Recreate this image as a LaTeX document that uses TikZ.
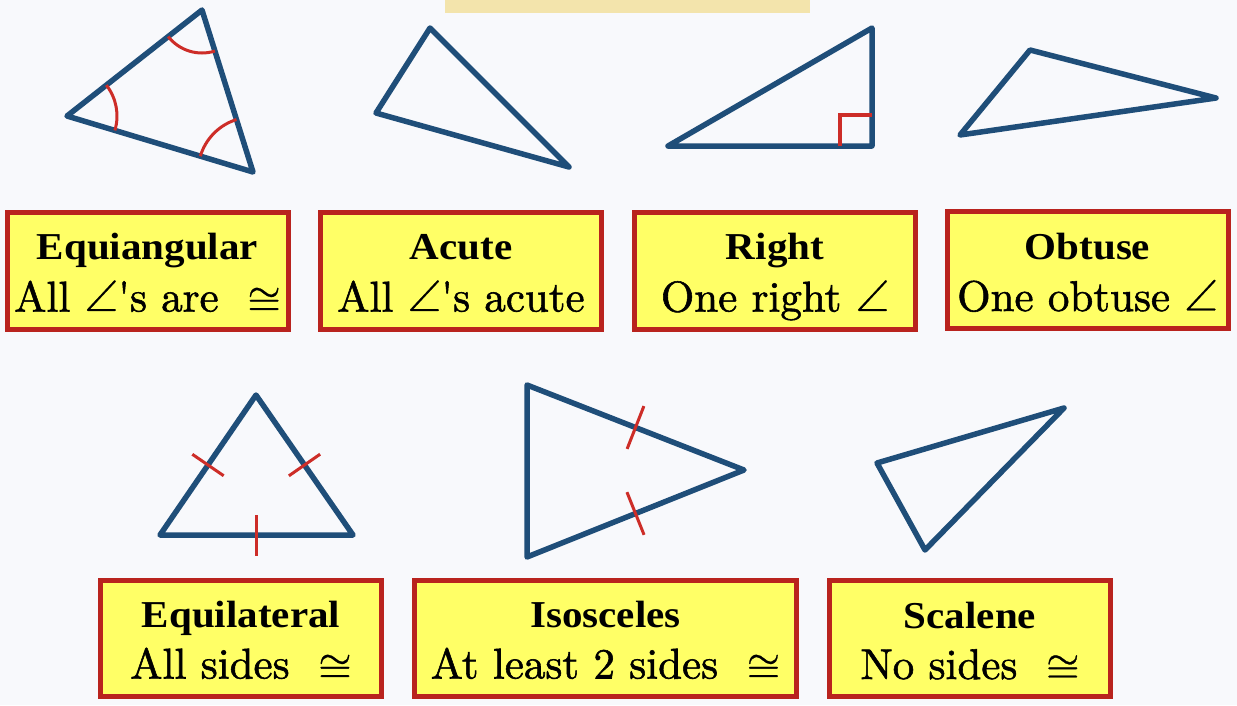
\documentclass[tikz,border=0pt]{standalone}
\usepackage{fontspec}
\newfontfamily\headf{LiberationSerif}[Extension=.ttf, UprightFont=*-Bold]
\newfontfamily\bodyf{lmroman10-regular}[Extension=.otf, FakeBold=1.3]
\newfontfamily\symf{latinmodern-math}[Extension=.otf, FakeBold=0.6]
\usetikzlibrary{calc,angles}
\definecolor{triblue}{RGB}{31,78,121}
\definecolor{markred}{RGB}{205,45,40}
\definecolor{bord}{RGB}{185,35,30}
\definecolor{boxfill}{RGB}{255,255,102}
\definecolor{bgc}{RGB}{248,249,252}
\definecolor{tanc}{RGB}{243,228,172}
\newcommand{\ang}{{\symf ∠}}
\newcommand{\cng}{{\symf ≅}}
\begin{document}
\begin{tikzpicture}[x=1pt,y=-1pt,
  triline/.style={draw=triblue, line width=5.5pt, line join=round, line cap=round},
  mk/.style={draw=markred, line width=3pt},
  arcmk/.style={draw=markred, line width=3pt, angle radius=#1},
  lbl/.style={draw=bord, fill=boxfill, line width=5pt, inner sep=0pt},
  row1/.style={lbl, minimum width=281pt, minimum height=117pt},
  row2/.style={lbl, minimum width=281pt, minimum height=116pt},
  head/.style={font=\headf\fontsize{38}{40}\selectfont, inner sep=0pt, anchor=base, xscale=1.08, transform shape},
  body/.style={font=\bodyf\fontsize{43}{46}\selectfont, inner sep=0pt, anchor=base}]
\fill[bgc] (0,0) rectangle (1237,705);
\useasboundingbox (0,0) rectangle (1237,705);

% partly visible title box
\node[fill=tanc, minimum width=365pt, minimum height=25pt, inner sep=0pt] (title) at (627.5,0) {};

% ---- triangles, top row ----
\coordinate (a1) at (202,10); \coordinate (a2) at (67,116); \coordinate (a3) at (253,172);
\draw[triline] (a1) -- (a2) -- (a3) -- cycle;
\pic[arcmk=43pt] {angle = a2--a1--a3};
\pic[arcmk=50pt] {angle = a3--a2--a1};
\pic[arcmk=55pt] {angle = a1--a3--a2};

\coordinate (c1) at (430,28); \coordinate (c2) at (376,113); \coordinate (c3) at (569,167);
\draw[triline] (c1) -- (c2) -- (c3) -- cycle;

\coordinate (r1) at (668,146); \coordinate (r2) at (872,28); \coordinate (r3) at (872,146);
\draw[triline] (r1) -- (r2) -- (r3) -- cycle;
\coordinate (rq1) at (840,146); \coordinate (rq2) at (872,115);
\draw[mk, line width=3.5pt] (rq1) |- (rq2);

\coordinate (o1) at (1030,50); \coordinate (o2) at (960,135); \coordinate (o3) at (1216,98);
\draw[triline] (o1) -- (o2) -- (o3) -- cycle;

% ---- triangles, bottom row ----
\coordinate (e1) at (256,395); \coordinate (e2) at (160,535); \coordinate (e3) at (353,535);
\draw[triline] (e1) -- (e2) -- (e3) -- cycle;
\draw[mk] ($(e1)!0.5!(e2)!19pt!90:(e2)$) -- ($(e1)!0.5!(e2)!19pt!-90:(e2)$);
\draw[mk] ($(e1)!0.5!(e3)!19pt!90:(e3)$) -- ($(e1)!0.5!(e3)!19pt!-90:(e3)$);
\draw[mk] ($(e2)!0.5!(e3)!20pt!90:(e3)$) -- ($(e2)!0.5!(e3)!21pt!-90:(e3)$);

\coordinate (i1) at (527,385); \coordinate (i2) at (527,557); \coordinate (i3) at (744,470);
\draw[triline] (i1) -- (i2) -- (i3) -- cycle;
\draw[mk] ($(i1)!0.5!(i3)!23pt!90:(i3)$) -- ($(i1)!0.5!(i3)!23pt!-90:(i3)$);
\draw[mk] ($(i2)!0.5!(i3)!23pt!90:(i3)$) -- ($(i2)!0.5!(i3)!23pt!-90:(i3)$);

\coordinate (s1) at (877,463); \coordinate (s2) at (1064,408); \coordinate (s3) at (925,550);
\draw[triline] (s1) -- (s2) -- (s3) -- cycle;

% ---- label boxes, top row ----
\node[row1] (b1) at (147.5,270.5) {};
\node[row1] (b2) at (461,270.5) {};
\node[row1] (b3) at (775,270.5) {};
\node[row1] (b4) at (1087.5,270) {};
\node[head] (h1) at ($(b1.north)+(0,50)$) {Equiangular};
\node[body] (t1) at ($(b1.north)+(0,102)$) {All \ang's are~~\cng};
\node[head] (h2) at ($(b2.north)+(0,50)$) {Acute};
\node[body] (t2) at ($(b2.north)+(0,102)$) {All \ang's acute};
\node[head] (h3) at ($(b3.north)+(0,50)$) {Right};
\node[body] (t3) at ($(b3.north)+(0,102)$) {One right \ang};
\node[head] (h4) at ($(b4.north)+(0,50)$) {Obtuse};
\node[body] (t4) at ($(b4.north)+(0,102)$) {One obtuse \ang};

% ---- label boxes, bottom row ----
\node[row2] (b5) at (241,638) {};
\node[row2, minimum width=382pt] (b6) at (605.5,638) {};
\node[row2] (b7) at (970,638.5) {};
\node[head] (h5) at ($(b5.north)+(0,50)$) {Equilateral};
\node[body] (t5) at ($(b5.north)+(0,101)$) {All sides~~\cng};
\node[head] (h6) at ($(b6.north)+(0,50)$) {Isosceles};
\node[body] (t6) at ($(b6.north)+(0,101)$) {At least 2 sides~~\cng};
\node[head] (h7) at ($(b7.north)+(0,50)$) {Scalene};
\node[body] (t7) at ($(b7.north)+(0,101)$) {No sides~~\cng};
\end{tikzpicture}
\end{document}
